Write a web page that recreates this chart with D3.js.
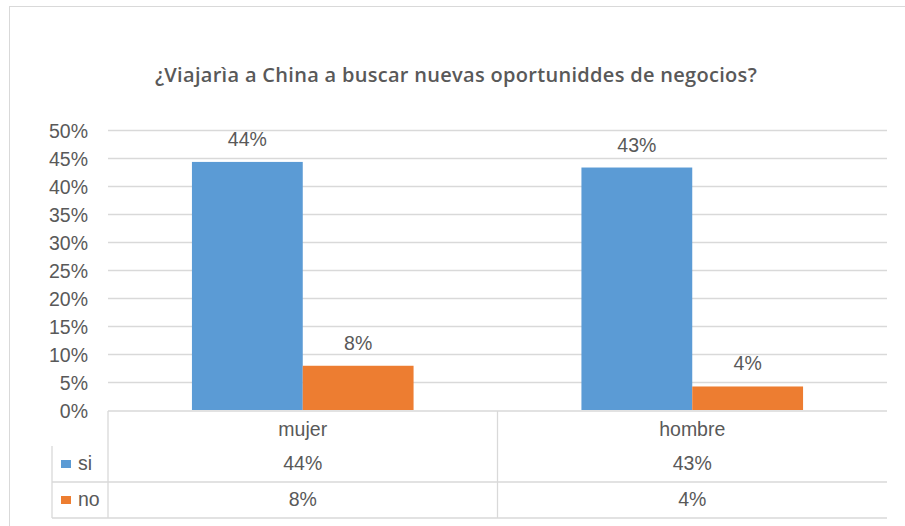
<!DOCTYPE html>
<html>
<head>
<meta charset="utf-8">
<script src="https://cdn.jsdelivr.net/npm/d3@7"></script>
<style>
  body { margin: 0; background: #fff; }
  text { fill: #595959; }
</style>
</head>
<body>
<div id="chart"></div>
<script>
// data
var categories = ["mujer", "hombre"];
var seriesNames = ["si", "no"];
var siValues = [0.443, 0.433];
var noValues = [0.079, 0.042];
var siLabels = ["44%", "43%"];
var noLabels = ["8%", "4%"];
var yTicks = [0, 0.05, 0.1, 0.15, 0.2, 0.25, 0.3, 0.35, 0.4, 0.45, 0.5];
var colors = ["#5B9BD5", "#ED7D31"];
var title = "¿Viajarìa a China a buscar nuevas oportuniddes de negocios?";

var W = 905, H = 526;
var plotLeft = 108, plotRight = 887, plotTop = 130, plotBottom = 410;

var svg = d3.select("#chart").append("svg")
  .attr("width", W)
  .attr("height", H);

// outer frame
svg.append("rect")
  .attr("x", 9.5).attr("y", 6.5)
  .attr("width", W).attr("height", H)
  .attr("fill", "none")
  .attr("stroke", "#D9D9D9");

svg.append("text")
  .attr("x", 456)
  .attr("y", 82)
  .attr("text-anchor", "middle")
  .attr("font-family", "'Open Sans', sans-serif")
  .attr("font-weight", 600)
  .attr("font-size", 20)
  .attr("letter-spacing", 0.3)
  .text(title);

var x0 = d3.scaleBand().domain(categories).range([plotLeft, plotRight]).padding(0);
var bw = x0.bandwidth();
var x1 = d3.scaleBand().domain(seriesNames).range([bw * 0.2155, bw * 0.7845]).padding(0);
var y = d3.scaleLinear().domain([0, 0.5]).range([plotBottom, plotTop]);

// gridlines
svg.append("g").selectAll("line")
  .data(yTicks.filter(function(d){ return d > 0; }))
  .enter().append("line")
  .attr("x1", plotLeft).attr("x2", plotRight)
  .attr("y1", function(d){ return Math.round(y(d)) + 0.5; })
  .attr("y2", function(d){ return Math.round(y(d)) + 0.5; })
  .attr("stroke", "#D9D9D9")
  .attr("stroke-width", 1.3);

// y axis labels
var yAxis = svg.append("g")
  .attr("transform", "translate(" + 88 + ",0)")
  .call(d3.axisLeft(y).tickValues(yTicks).tickSize(0).tickPadding(0).tickFormat(d3.format(".0%")));
yAxis.select(".domain").remove();
yAxis.selectAll("text")
  .attr("font-family", "'Liberation Sans', Arial, sans-serif")
  .attr("font-size", 19.5)
  .attr("fill", "#595959")
  .attr("dy", "0.36em");

// bars
var rows = [siValues, noValues];
var rowLabels = [siLabels, noLabels];
var barData = [];
seriesNames.forEach(function(s, i){
  categories.forEach(function(c, j){
    barData.push({cat: c, series: s, value: rows[i][j], label: rowLabels[i][j], color: colors[i]});
  });
});

svg.append("g").selectAll("rect")
  .data(barData)
  .enter().append("rect")
  .attr("x", function(d){ return x0(d.cat) + x1(d.series); })
  .attr("width", x1.bandwidth())
  .attr("y", function(d){ return y(d.value); })
  .attr("height", function(d){ return y(0) - y(d.value); })
  .attr("fill", function(d){ return d.color; });

svg.append("g").selectAll("text")
  .data(barData)
  .enter().append("text")
  .attr("x", function(d){ return x0(d.cat) + x1(d.series) + x1.bandwidth() / 2; })
  .attr("y", function(d){ return y(d.value) - 16; })
  .attr("text-anchor", "middle")
  .attr("font-family", "'Liberation Sans', Arial, sans-serif")
  .attr("font-size", 19.5)
  .text(function(d){ return d.label; });

// data table
var tableTop = 411, rowSplit = 482, tableBottom = 518, legendLeft = 52;
var grid = svg.append("g").attr("stroke", "#D9D9D9").attr("stroke-width", 1.3);
grid.append("line").attr("x1", plotLeft).attr("x2", plotRight).attr("y1", tableTop).attr("y2", tableTop);
grid.append("line").attr("x1", legendLeft).attr("x2", plotRight).attr("y1", rowSplit).attr("y2", rowSplit);
grid.append("line").attr("x1", legendLeft).attr("x2", plotRight).attr("y1", tableBottom).attr("y2", tableBottom);
grid.append("line").attr("x1", legendLeft).attr("x2", legendLeft).attr("y1", 446).attr("y2", tableBottom);
categories.forEach(function(c){
  grid.append("line")
    .attr("x1", x0(c)).attr("x2", x0(c))
    .attr("y1", tableTop).attr("y2", tableBottom);
});

var tableFont = "'Liberation Sans', Arial, sans-serif";
svg.append("g").selectAll("text")
  .data(categories)
  .enter().append("text")
  .attr("x", function(d){ return x0(d) + bw / 2; })
  .attr("y", 436)
  .attr("text-anchor", "middle")
  .attr("font-family", tableFont)
  .attr("font-size", 19.5)
  .text(function(d){ return d; });

var rowY = [470, 506];
seriesNames.forEach(function(s, i){
  svg.append("rect")
    .attr("x", 61).attr("y", rowY[i] - 10)
    .attr("width", 10).attr("height", 8)
    .attr("fill", colors[i]);
  svg.append("text")
    .attr("x", 78).attr("y", rowY[i])
    .attr("font-family", tableFont)
    .attr("font-size", 19.5)
    .text(s);
  categories.forEach(function(c, j){
    svg.append("text")
      .attr("x", x0(c) + bw / 2)
      .attr("y", rowY[i])
      .attr("text-anchor", "middle")
      .attr("font-family", tableFont)
      .attr("font-size", 19.5)
      .text(rowLabels[i][j]);
  });
});
</script>
</body>
</html>
